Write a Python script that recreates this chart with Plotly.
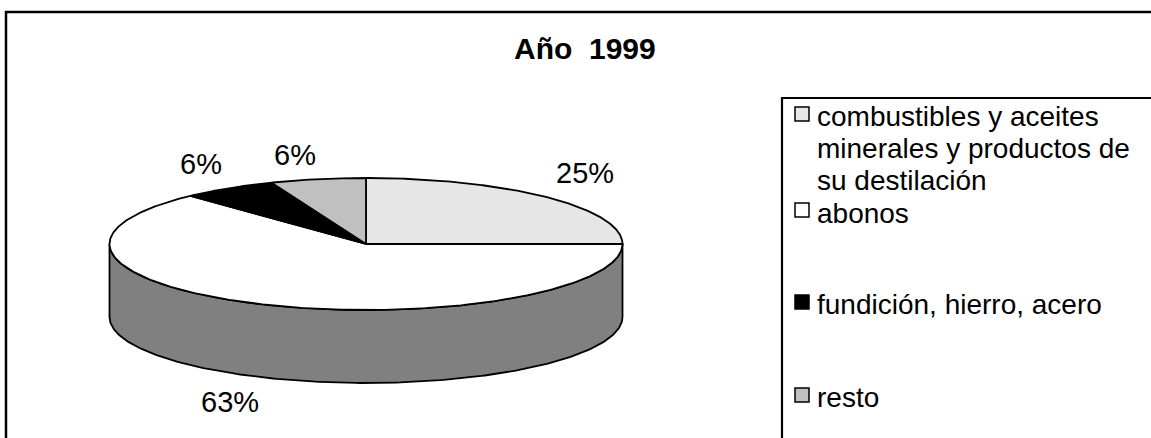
import numpy as np
import plotly.graph_objects as go

# ---------------- data ----------------
categories = ["combustibles y aceites", "abonos", "fundición, hierro, acero", "resto"]
category_extra_lines = [["minerales y productos de", "su destilación"], [], [], []]
values = [25, 63, 6, 6]
title_text = "Año  1999"

# ---------------- style ----------------
top_colors = ["#E6E6E6", "#FFFFFF", "#000000", "#C0C0C0"]
side_colors = ["#737373", "#808080", "#000000", "#606060"]
FONT = "Liberation Sans, Arial, sans-serif"
W, H = 1151, 438
CX, CY, RX, RY, DEPTH = 366, 244, 256.5, 66, 73
EDGE = dict(color="black", width=1.8)
LABEL_SIZE = 29
LEG_SIZE = 28

fig = go.Figure()

tot = float(sum(values))
cum = np.concatenate([[0], np.cumsum(values)]) / tot
t0s = 90 - 360 * cum[:-1]
t1s = 90 - 360 * cum[1:]


def ell(t_deg, dy=0.0):
    t = np.radians(t_deg)
    return CX + RX * np.cos(t), CY - RY * np.sin(t) + dy


# side walls (front half)
for i in range(len(values)):
    a, b = t1s[i], t0s[i]
    for shift in (0, 360, -360):
        lo, hi = max(a + shift, -180), min(b + shift, 0)
        if hi > lo:
            ts = np.linspace(hi, lo, 200)
            xt, yt = ell(ts)
            xb, yb = ell(ts[::-1], DEPTH)
            xs = np.concatenate([xt, xb, xt[:1]])
            ys = np.concatenate([yt, yb, yt[:1]])
            fig.add_trace(go.Scatter(x=xs, y=ys, mode="lines", fill="toself",
                                     fillcolor=side_colors[i], line=EDGE,
                                     hoverinfo="skip", showlegend=False))

# top slices
for i in range(len(values)):
    ts = np.linspace(t0s[i], t1s[i], 300)
    xe, ye = ell(ts)
    xs = np.concatenate([[CX], xe, [CX]])
    ys = np.concatenate([[CY], ye, [CY]])
    fig.add_trace(go.Scatter(x=xs, y=ys, mode="lines", fill="toself",
                             fillcolor=top_colors[i], line=EDGE,
                             hoverinfo="skip", showlegend=False))

# percentage labels, placed outside the slice edge at the mid-angle
annotations = []
for i, v in enumerate(values):
    txt = f"{round(v / tot * 100)}%"
    m = np.radians((t0s[i] + t1s[i]) / 2)
    ex, ey = CX + RX * np.cos(m), CY - RY * np.sin(m)
    half_w = 0.5 * LABEL_SIZE * (0.556 * (len(txt) - 1) + 0.889)
    sx = 1 if np.cos(m) >= 0 else -1
    lx = ex + sx * half_w + 12 * np.cos(m)
    ly = ey - 24.5 if np.sin(m) >= 0 else ey + DEPTH + 24.5
    annotations.append(dict(x=lx, y=ly, xref="x", yref="y", text=txt,
                            showarrow=False, font=dict(family=FONT, size=LABEL_SIZE, color="black"),
                            xanchor="center", yanchor="middle"))

# title
annotations.append(dict(x=585, y=48, xref="x", yref="y", text=f"<b>{title_text}</b>",
                        showarrow=False, font=dict(family=FONT, size=30, color="black"),
                        xanchor="center", yanchor="middle"))

shapes = [
    dict(type="rect", xref="x", yref="y", x0=6, y0=12, x1=W + 40, y1=H + 40,
         line=dict(color="black", width=2.5), fillcolor="rgba(0,0,0,0)", layer="below"),
    dict(type="rect", xref="x", yref="y", x0=782, y0=98, x1=W + 40, y1=H + 40,
         line=dict(color="black", width=2.2), fillcolor="rgba(0,0,0,0)", layer="below"),
]

# legend entries
LEG_X, SQ, TXT_X, LINE_PITCH = 802, 14, 815, 32
LEG_CENTERS = [114, 210, 302, 395]
TEXT_SHIFT = [2, 3, 2, 2]
for i, name in enumerate(categories):
    cy = LEG_CENTERS[i]
    shapes.append(dict(type="rect", xref="x", yref="y", x0=LEG_X - SQ / 2, x1=LEG_X + SQ / 2,
                       y0=cy - SQ / 2, y1=cy + SQ / 2, fillcolor=top_colors[i],
                       line=dict(color="black", width=1.5)))
    for k, line in enumerate([name] + category_extra_lines[i]):
        annotations.append(dict(x=TXT_X, y=cy + TEXT_SHIFT[i] + k * LINE_PITCH, xref="x", yref="y",
                                text=line, showarrow=False, align="left", xanchor="left",
                                yanchor="middle",
                                font=dict(family=FONT, size=LEG_SIZE, color="black")))

fig.update_layout(
    width=W, height=H,
    margin=dict(l=0, r=0, t=0, b=0),
    paper_bgcolor="white", plot_bgcolor="white",
    xaxis=dict(range=[0, W], visible=False, fixedrange=True),
    yaxis=dict(range=[H, 0], visible=False, fixedrange=True),
    shapes=shapes, annotations=annotations, showlegend=False,
)

fig.write_html("out.html", config={"displayModeBar": False},
               post_script="document.body.style.margin='0px';")
